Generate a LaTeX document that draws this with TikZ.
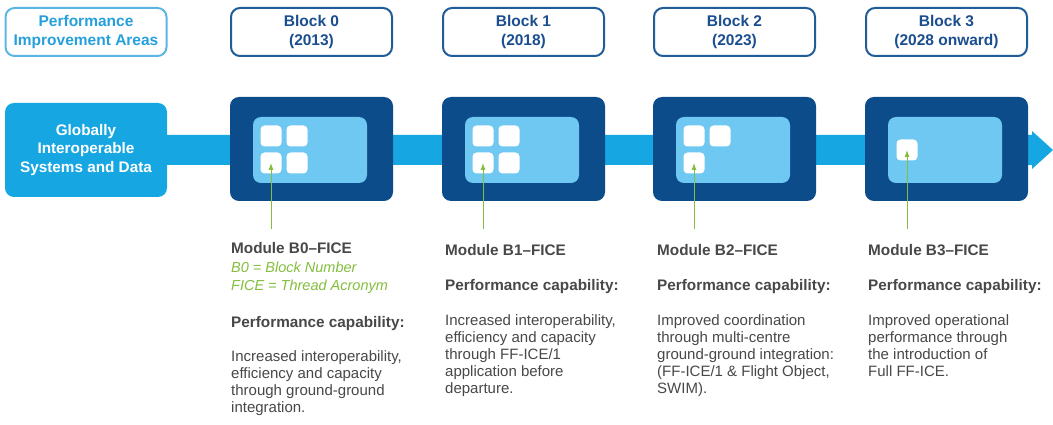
\documentclass[tikz,border=0pt]{standalone}
\usepackage{fontspec}
\setmainfont{Liberation Sans}
\usetikzlibrary{arrows.meta}
\definecolor{bandblue}{RGB}{22,166,225}
\definecolor{navy}{RGB}{12,76,139}
\definecolor{panel}{RGB}{110,200,242}
\definecolor{hdrline}{RGB}{32,92,152}
\definecolor{hdrtext}{RGB}{26,78,142}
\definecolor{pialine}{RGB}{92,182,228}
\definecolor{piatext}{RGB}{38,160,220}
\definecolor{keygreen}{RGB}{132,190,62}
\definecolor{inkgrey}{RGB}{72,72,72}

\begin{document}
\begin{tikzpicture}[x=1pt,y=-1pt,
    hdr/.style={draw=hdrline,line width=2pt,fill=white,rounded corners=9pt,
      minimum width=161pt,minimum height=48pt,inner sep=0pt,align=center,
      text=hdrtext,font=\bfseries\fontsize{15.5}{19}\selectfont},
    blk/.style={fill=navy,rounded corners=9pt,minimum width=163pt,
      minimum height=104pt,inner sep=0pt},
    pane/.style={fill=panel,rounded corners=8pt,minimum width=114pt,
      minimum height=66pt,inner sep=0pt},
    sq/.style={fill=white,rounded corners=4pt,minimum size=21pt,inner sep=0pt},
    modname/.style={anchor=base west,inner sep=0pt,text=inkgrey,
      font=\bfseries\fontsize{15.3}{18}\selectfont},
    keytext/.style={anchor=north west,inner sep=0pt,align=left,text=keygreen,
      font=\itshape\fontsize{14.5}{18}\selectfont},
    bodytext/.style={anchor=north west,inner sep=0pt,align=left,text=inkgrey,
      font=\fontsize{15}{17}\selectfont},
    pointer/.style={draw=keygreen,line width=0.9pt,-{Latex[length=7pt,width=5pt]}},
    band/.style={fill=bandblue}]

  \useasboundingbox (0,0) rectangle (1053,425);
  \fill[white] (0,0) rectangle (1053,425);

  % timeline band
  \coordinate (bandstart) at (150,150);
  \coordinate (bandend) at (1053,150);
  \fill[band] (bandstart |- 0,135) -- (1032,135) -- (1032,131) -- (bandend)
              -- (1032,169) -- (1032,165) -- (bandstart |- 0,165) -- cycle;

  % top row
  \node[hdr,draw=pialine,text=piatext] (pia) at (86,32) {Performance\\Improvement Areas};
  \node[hdr] (hdr0) at (311.5,32) {Block 0\\(2013)};
  \node[hdr] (hdr1) at (523.5,32) {Block 1\\(2018)};
  \node[hdr] (hdr2) at (734.5,32) {Block 2\\(2023)};
  \node[hdr] (hdr3) at (946.5,32) {Block 3\\(2028 onward)};

  % middle row
  \node[fill=bandblue,rounded corners=9pt,minimum width=162pt,minimum height=94pt,
        inner sep=0pt,align=center,text=white,
        font=\bfseries\fontsize{15.3}{18.5}\selectfont] (gisd) at (86,150)
        {Globally\\Interoperable\\Systems and Data};

  \node[blk] (blk0) at (311.5,149) {};
  \node[pane] (pane0) at (310,150) {};
  \node[sq] (s0a) at (271,136) {};
  \node[sq] (s0b) at (297,136) {};
  \node[sq] (s0c) at (271,163) {};
  \node[sq] (s0d) at (297,163) {};

  \node[blk] (blk1) at (523.5,149) {};
  \node[pane] (pane1) at (522,150) {};
  \node[sq] (s1a) at (483,136) {};
  \node[sq] (s1b) at (509,136) {};
  \node[sq] (s1c) at (483,163) {};
  \node[sq] (s1d) at (509,163) {};

  \node[blk] (blk2) at (734.5,149) {};
  \node[pane] (pane2) at (733,150) {};
  \node[sq] (s2a) at (694,136) {};
  \node[sq] (s2b) at (720,136) {};
  \node[sq] (s2c) at (694,163) {};

  \node[blk] (blk3) at (946.5,149) {};
  \node[pane] (pane3) at (945,150) {};
  \node[sq] (s3a) at (907,150) {};

  % module texts
  \node[modname] (mod0) at (231,254) {Module B0–FICE};
  \node[keytext] (key0) at (231,261.5) {B0 = Block Number\\FICE = Thread Acronym};
  \node[modname] (cap0) at (231,327) {Performance capability:};
  \node[bodytext] (txt0) at (231,350) {Increased interoperability,\\efficiency and capacity\\through ground-ground\\integration.};

  \node[modname] (mod1) at (445,255) {Module B1–FICE};
  \node[modname] (cap1) at (445,290) {Performance capability:};
  \node[bodytext] (txt1) at (445,314) {Increased interoperability,\\efficiency and capacity\\through FF-ICE/1\\application before\\departure.};

  \node[modname] (mod2) at (657,255) {Module B2–FICE};
  \node[modname] (cap2) at (657,290) {Performance capability:};
  \node[bodytext] (txt2) at (657,314) {Improved coordination\\through multi-centre\\ground-ground integration:\\(FF-ICE/1 \& Flight Object,\\SWIM).};

  \node[modname] (mod3) at (868,255) {Module B3–FICE};
  \node[modname] (cap3) at (868,290) {Performance capability:};
  \node[bodytext] (txt3) at (868,314) {Improved operational\\performance through\\the introduction of\\Full FF-ICE.};

  % pointers
  \coordinate (t0) at (271,229);
  \coordinate (t1) at (483,229);
  \coordinate (t2) at (694,229);
  \coordinate (t3) at (907,229);
  \draw[pointer] (t0) -- (s0c.center);
  \draw[pointer] (t1) -- (s1c.center);
  \draw[pointer] (t2) -- (s2c.center);
  \draw[pointer] (t3) -- (s3a.center);
\end{tikzpicture}
\end{document}
